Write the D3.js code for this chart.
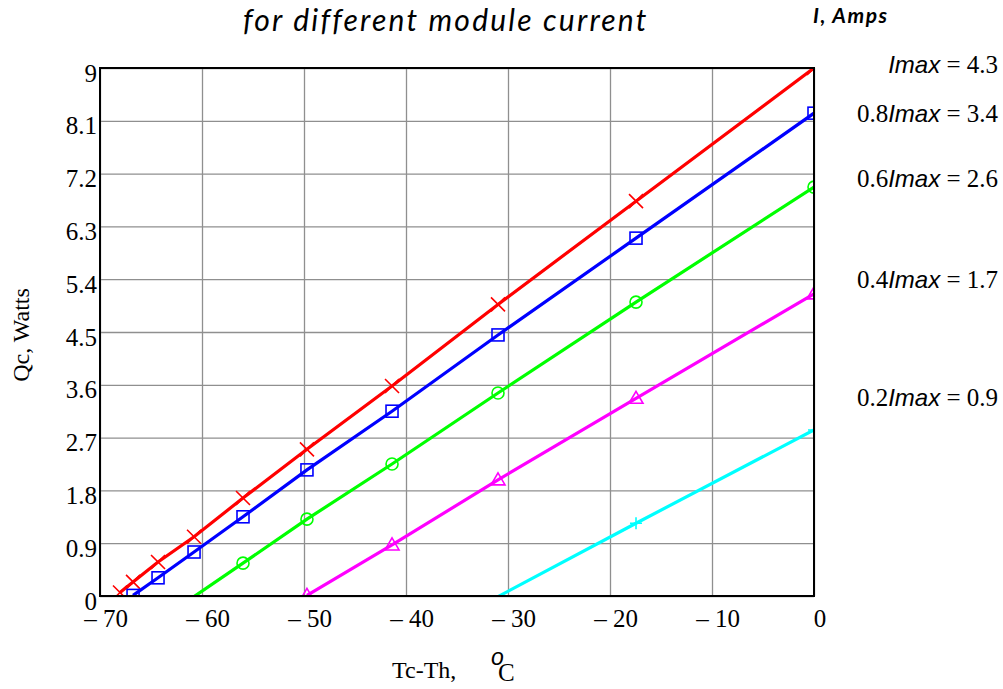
<!DOCTYPE html>
<html>
<head>
<meta charset="utf-8">
<script src="https://cdn.jsdelivr.net/npm/d3@7"></script>
<style>
  body { margin: 0; background: #fff; }
  svg { display: block; }
</style>
</head>
<body>
<svg id="chart" width="1003" height="689"></svg>
<script>
// temperature difference Tc-Th, degC (x points where Qc was computed)
const dT = [-68.04, -66.76, -64.31, -60.78, -55.98, -49.71, -41.37, -30.98, -17.45, 0];

// cooling power Qc, W (null = not computed for that current)
const qc10 = [0.06, 0.24, 0.58, 1.01, 1.67, 2.50, 3.58, 4.97, 6.73, 9.00];
const qc08 = [null, 0.01, 0.31, 0.75, 1.35, 2.15, 3.15, 4.45, 6.10, 8.23];
const qc06 = [null, null, null, -0.01, 0.56, 1.31, 2.25, 3.46, 5.01, 6.97];
const qc04 = [null, null, null, null, null, 0.01, 0.87, 1.98, 3.37, 5.15];
const qc02 = [null, null, null, null, null, null, null, -0.01, 1.24, 2.83];

const xTicks = [-70, -60, -50, -40, -30, -20, -10, 0];
const yTicks = [0, 0.9, 1.8, 2.7, 3.6, 4.5, 5.4, 6.3, 7.2, 8.1, 9];

// legend text on the right: prefix, current
const labelPrefix = ['', '0.8', '0.6', '0.4', '0.2'];
const labelAmps = ['4.3', '3.4', '2.6', '1.7', '0.9'];

const series = [
  { values: qc10, color: '#ff0000', marker: 'cross' },
  { values: qc08, color: '#0000ff', marker: 'square' },
  { values: qc06, color: '#00ff00', marker: 'circle' },
  { values: qc04, color: '#ff00ff', marker: 'triangle' },
  { values: qc02, color: '#00ffff', marker: 'plus' }
];
const labelY = [73, 122, 187, 288, 406];

const serif = '"Liberation Serif", "Times New Roman", serif';
const svg = d3.select('#chart');
const margin = { top: 68, right: 189, bottom: 93, left: 100 };
const width = 1003 - margin.left - margin.right;
const height = 689 - margin.top - margin.bottom;

const x = d3.scaleLinear([-70, 0], [0, width]);
const y = d3.scaleLinear([0, 9], [height, 0]);

const g = svg.append('g').attr('transform', `translate(${margin.left},${margin.top})`);

g.append('clipPath').attr('id', 'plot-clip')
  .append('rect').attr('width', width).attr('height', height);

// grid lines
g.append('g')
  .attr('transform', `translate(0,${height})`)
  .call(d3.axisBottom(x).tickValues(xTicks).tickSize(-height).tickFormat(''))
  .call(a => a.select('.domain').remove())
  .call(a => a.selectAll('line').attr('stroke', '#8f8f8f').attr('stroke-width', 1.3));
g.append('g')
  .call(d3.axisLeft(y).tickValues(yTicks).tickSize(-width).tickFormat(''))
  .call(a => a.select('.domain').remove())
  .call(a => a.selectAll('line').attr('stroke', '#8f8f8f').attr('stroke-width', 1.3));

// tick labels
g.append('g')
  .attr('transform', `translate(0,${height})`)
  .call(d3.axisBottom(x).tickValues(xTicks).tickSize(0)
    .tickFormat(d => d < 0 ? '\u2013 ' + Math.abs(d) : String(d)))
  .call(a => a.select('.domain').remove())
  .call(a => a.selectAll('text')
    .attr('x', 5.5).attr('y', 31).attr('dy', 0)
    .attr('fill', '#000')
    .style('font', `25px ${serif}`));
g.append('g')
  .call(d3.axisLeft(y).tickValues(yTicks).tickSize(0).tickFormat(d => d3.format('.2~f')(d)))
  .call(a => a.select('.domain').remove())
  .call(a => a.selectAll('text')
    .attr('x', -3).attr('dy', 13)
    .attr('fill', '#000')
    .style('font', `25px ${serif}`));

const plot = g.append('g').attr('clip-path', 'url(#plot-clip)');

const line = d3.line()
  .defined(d => d[1] !== null)
  .x(d => x(d[0]))
  .y(d => y(d[1]));

function drawMarker(sel, type, color) {
  const s = 7;
  if (type === 'cross') {
    sel.append('path').attr('d', `M${-s},${-s}L${s},${s}M${-s},${s}L${s},${-s}`);
  } else if (type === 'plus') {
    sel.append('path').attr('d', `M${-6},0L6,0M0,${-6}L0,6`);
  } else if (type === 'square') {
    sel.append('rect').attr('x', -6).attr('y', -6).attr('width', 12).attr('height', 12);
  } else if (type === 'circle') {
    sel.append('circle').attr('r', 6);
  } else if (type === 'triangle') {
    sel.append('path').attr('d', 'M0,-7L7,5L-7,5Z');
  }
  sel.selectAll('*').attr('fill', 'none').attr('stroke', color).attr('stroke-width', 1.6);
}

series.forEach(s => {
  const pts = dT.map((t, i) => [t, s.values[i]]);
  plot.append('path')
    .datum(pts)
    .attr('d', line)
    .attr('fill', 'none')
    .attr('stroke', s.color)
    .attr('stroke-width', 3.2);

  plot.selectAll(null)
    .data(pts.filter(p => p[1] !== null && p[1] >= 0))
    .join('g')
    .attr('transform', d => `translate(${x(d[0])},${y(d[1])})`)
    .each(function() { drawMarker(d3.select(this), s.marker, s.color); });
});

// frame
g.append('rect')
  .attr('width', width).attr('height', height)
  .attr('fill', 'none').attr('stroke', '#000').attr('stroke-width', 2);

// axis titles
svg.append('text')
  .attr('transform', 'translate(29,335) rotate(-90)')
  .attr('text-anchor', 'middle')
  .style('font', `24px ${serif}`)
  .text('Qc, Watts');

svg.append('text')
  .attr('x', 392).attr('y', 678)
  .style('font', `24px ${serif}`)
  .text('Tc-Th,');
svg.append('text')
  .attr('x', 498).attr('y', 681)
  .style('font', `25px ${serif}`)
  .text('C');
svg.append('text')
  .attr('x', 491).attr('y', 665)
  .style('font', 'italic 23px "Liberation Sans", Arial, sans-serif')
  .text('o');

// title
svg.append('text')
  .attr('x', 243).attr('y', 31)
  .style('font', 'italic 30px Lato, "Open Sans", sans-serif')
  .style('letter-spacing', '2.2px')
  .text('for different module current');

svg.append('text')
  .attr('x', 813).attr('y', 23)
  .style('font', 'italic bold 21px Lato, "Open Sans", sans-serif')
  .style('letter-spacing', '1.5px')
  .text('I, Amps');

// current labels on the right
labelPrefix.forEach((p, i) => {
  const t = svg.append('text')
    .attr('x', 998).attr('y', labelY[i])
    .attr('text-anchor', 'end')
    .style('font', `25px ${serif}`);
  t.append('tspan').text(p);
  t.append('tspan')
    .style('font', 'italic 24px "Liberation Sans", Arial, sans-serif')
    .text('Imax');
  t.append('tspan').text(' = ' + labelAmps[i]);
});
</script>
</body>
</html>
